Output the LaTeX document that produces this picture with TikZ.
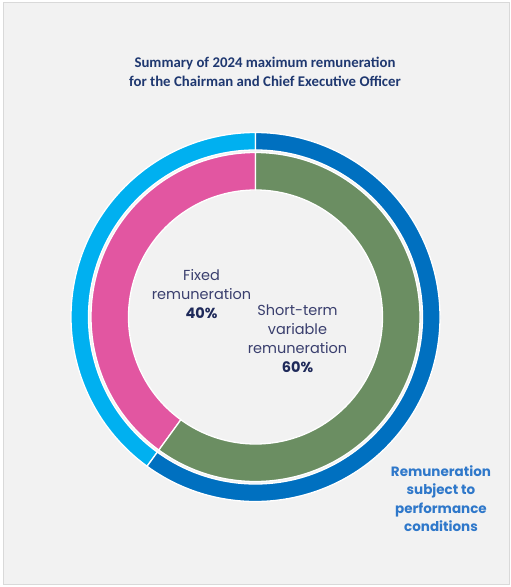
\documentclass[tikz,border=0pt]{standalone}
\usepackage{fontspec}
\setmainfont{Carlito}
\newfontfamily\geo{Poppins}
\definecolor{bgc}{HTML}{F2F2F2}
\definecolor{framec}{HTML}{D9D9D9}
\definecolor{cyanc}{HTML}{00B0F0}
\definecolor{bluec}{HTML}{0070C0}
\definecolor{pinkc}{HTML}{E256A1}
\definecolor{greenc}{HTML}{6B8E62}
\definecolor{titlec}{HTML}{1F3870}
\definecolor{labc}{HTML}{3A3F6E}
\definecolor{pctc}{HTML}{1F2A5A}
\definecolor{perfc}{HTML}{2F78CA}
\tikzset{
  seg/.style={draw=white, line width=1.3pt},
  title/.style={font=\bfseries\fontsize{14.8}{19}\selectfont, text=titlec, align=center},
  lab/.style={font=\geo\fontsize{14.5}{19}\selectfont, text=labc, align=center},
  perf/.style={font=\geo\bfseries\fontsize{13.5}{18.5}\selectfont, text=perfc, align=center},
}
\begin{document}
\begin{tikzpicture}[x=1pt,y=1pt]
\useasboundingbox (0,0) rectangle (511,587);
\fill[white] (0,0) rectangle (511,587);
\filldraw[fill=bgc, draw=framec, line width=1pt] (3,2) rectangle (509,584);
\node[title] (t) at (265,515.5) {Summary of 2024 maximum remuneration\\for the Chairman and Chief Executive Officer};
\coordinate (C) at (255.5,270);
\begin{scope}[shift={(C)}]
  % outer ring
  \filldraw[seg, fill=cyanc] (90:184.5) arc[start angle=90, end angle=234, radius=184.5] -- (234:167) arc[start angle=234, end angle=90, radius=167] -- cycle;
  \filldraw[seg, fill=bluec] (234:184.5) arc[start angle=234, end angle=450, radius=184.5] -- (450:167) arc[start angle=450, end angle=234, radius=167] -- cycle;
  % inner donut
  \filldraw[seg, fill=pinkc] (90:164.5) arc[start angle=90, end angle=234, radius=164.5] -- (234:127) arc[start angle=234, end angle=90, radius=127] -- cycle;
  \filldraw[seg, fill=greenc] (234:164.5) arc[start angle=234, end angle=450, radius=164.5] -- (450:127) arc[start angle=450, end angle=234, radius=127] -- cycle;
\end{scope}
\node[lab] (fixed) at (201.5,293) {Fixed\\remuneration\\{\bfseries\color{pctc}40\%}};
\node[lab] (stv) at (297.5,248) {Short-term\\variable\\remuneration\\{\bfseries\color{pctc}60\%}};
\node[perf] (perf) at (441,88.5) {Remuneration\\subject to\\performance\\conditions};
\end{tikzpicture}
\end{document}
